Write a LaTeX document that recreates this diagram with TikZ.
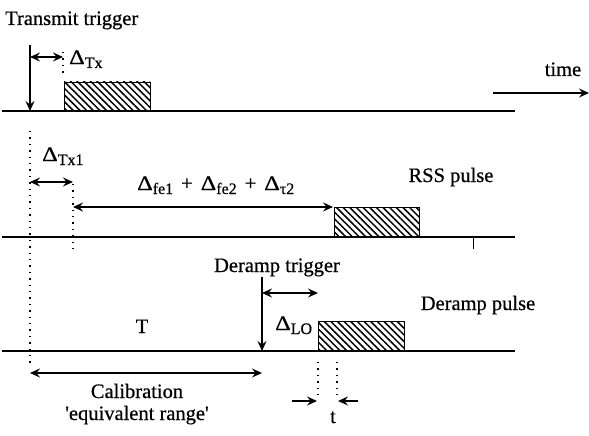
\documentclass[tikz,border=0pt]{standalone}
\usepackage{graphicx}
\usepackage{fontspec}
\setmainfont[FakeBold=0.6,AutoFakeBold=0.6,Ligatures=TeXOff]{Liberation Serif}
\usetikzlibrary{arrows.meta,patterns.meta}
\newcommand\sbs[1]{\raisebox{-4pt}{\fontsize{16}{16}\selectfont #1}}
\newcommand\Dl{\scalebox{1.18}[1]{Δ}}
\newcommand\pl{\hspace{8pt}+\hspace{8pt}}
\tikzset{
  base/.style={line width=1.2pt},
  dotline/.style={line width=1.4pt, dash pattern=on 1.4pt off 5pt},
  tip/.tip={Stealth[length=10pt,width=9pt,inset=3.5pt]},
  arr/.style={line width=1.3pt, -tip},
  darr/.style={line width=1.3pt, tip-tip},
  pulse/.style={line width=0.9pt, pattern={Lines[angle=-45,distance=4.7pt,line width=1.5pt]}},
  lbl/.style={inner sep=0pt, font=\fontsize{20.5}{24}\selectfont},
}
\begin{document}
\begin{tikzpicture}[x=1pt,y=-1pt]
\useasboundingbox (0,0) rectangle (589,436);
% baselines
\coordinate (b1L) at (2,111); \coordinate (b1R) at (515,111);
\coordinate (b2L) at (2,237); \coordinate (b2R) at (515,237);
\coordinate (b3L) at (2,351); \coordinate (b3R) at (515,351);
\draw[base] (b1L) -- (b1R);
\draw[base] (b2L) -- (b2R);
\draw[base] (b3L) -- (b3R);
% time arrow
\coordinate (tmA) at (493,93); \coordinate (tmB) at (589,93);
\draw[arr] (tmA) -- (tmB);
\node[lbl, anchor=base] (time) at (563,76) {time};
% transmit trigger
\node[lbl, anchor=base west] (ttl) at (5,25) {Transmit trigger};
\coordinate (ttT) at (30,45); \coordinate (ttB) at (30,111);
\draw[arr] (ttT) -- (ttB);
\coordinate (dtxA) at (30,57); \coordinate (dtxB) at (63,57);
\draw[darr] (dtxA) -- (dtxB);
\coordinate (d1T) at (63,52); \coordinate (d1B) at (63,74);
\draw[dotline] (d1T) -- (d1B);
\node[lbl, anchor=base west] (dtx) at (69,64) {\Dl\sbs{Tx}};
\coordinate (p1a) at (64,82); \coordinate (p1b) at (150,111);
\draw[pulse] (p1a) rectangle (p1b);
% row 2
\coordinate (v0T) at (30,131); \coordinate (v0B) at (30,366);
\draw[dotline] (v0T) -- (v0B);
\coordinate (v1T) at (73,184); \coordinate (v1B) at (73,249);
\draw[dotline] (v1T) -- (v1B);
\coordinate (dtx1A) at (30,182); \coordinate (dtx1B) at (73,182);
\draw[darr] (dtx1A) -- (dtx1B);
\node[lbl, anchor=base west] (dtx1) at (42,161) {\Dl\sbs{Tx1}};
\coordinate (feA) at (73,207); \coordinate (feB) at (333,207);
\draw[darr] (feA) -- (feB);
\node[lbl, anchor=base west] (fe) at (137,190) {\Dl\sbs{fe1}\pl\Dl\sbs{fe2}\pl\Dl\sbs{τ2}};
\coordinate (p2a) at (334,207); \coordinate (p2b) at (419,237);
\draw[pulse] (p2a) rectangle (p2b);
\node[lbl, anchor=base] (rss) at (451,182) {RSS pulse};
\coordinate (tkT) at (473,237); \coordinate (tkB) at (473,249);
\draw[line width=0.8pt] (tkT) -- (tkB);
% row 3
\node[lbl, anchor=base] (drt) at (277,272) {Deramp trigger};
\coordinate (drT) at (262,277); \coordinate (drB) at (262,351);
\draw[arr] (drT) -- (drB);
\coordinate (loA) at (262,293); \coordinate (loB) at (318,293);
\draw[darr] (loA) -- (loB);
\node[lbl, anchor=base west] (lo) at (275,330) {\Dl\sbs{LO}};
\coordinate (p3a) at (318,321); \coordinate (p3b) at (404,351);
\draw[pulse] (p3a) rectangle (p3b);
\node[lbl, anchor=base] (drp) at (478,310) {Deramp pulse};
\node[lbl, anchor=base] (T) at (142,333) {T};
\coordinate (calA) at (30,373); \coordinate (calB) at (262,373);
\draw[darr] (calA) -- (calB);
\node[lbl, anchor=base] (cal1) at (137,398) {Calibration};
\node[lbl, anchor=base] (cal2) at (137,420) {'equivalent range'};
\coordinate (tdAT) at (318,362); \coordinate (tdAB) at (318,396);
\coordinate (tdBT) at (337,362); \coordinate (tdBB) at (337,396);
\draw[dotline] (tdAT) -- (tdAB);
\draw[dotline] (tdBT) -- (tdBB);
\coordinate (taL) at (292,401); \coordinate (taR) at (317,401);
\draw[arr] (taL) -- (taR);
\coordinate (tbR) at (358,401); \coordinate (tbL) at (338,401);
\draw[arr] (tbR) -- (tbL);
\node[lbl, anchor=base] (t) at (333,423) {t};
\end{tikzpicture}
\end{document}
